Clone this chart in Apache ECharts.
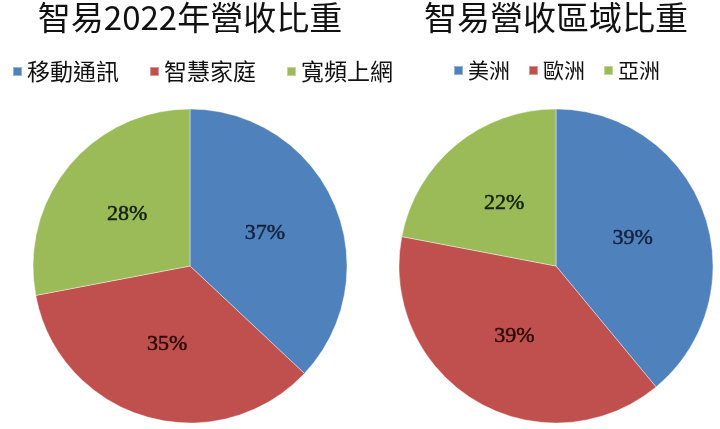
<!DOCTYPE html>
<html>
<head>
<meta charset="utf-8">
<script src="https://cdn.jsdelivr.net/npm/echarts@6/dist/echarts.min.js"></script>
<style>
html,body{margin:0;padding:0;background:#fff;}
#c{width:720px;height:429px;}
</style>
</head>
<body>
<div id="c"></div>
<script>
const titleLeft = '智易2022年營收比重';
const titleRight = '智易營收區域比重';
const segCategories = ['移動通訊', '智慧家庭', '寬頻上網'];
const segValues = [37, 35, 28];
const regionCategories = ['美洲', '歐洲', '亞洲'];
const regionValues = [39, 39, 22];
const colors = ['#4F81BD', '#C0504D', '#9BBB59'];
const labelColors = ['#14213d', '#2a0808', '#14200a'];

const cjk = '"Noto Sans CJK TC", "Noto Sans CJK SC", sans-serif';

function buildData(cats, vals) {
  return cats.map((n, i) => ({
    name: n,
    value: vals[i],
    itemStyle: { color: colors[i] },
    label: { color: labelColors[i], textBorderColor: labelColors[i] }
  }));
}

const labelStyle = {
  show: true, position: 'inside', formatter: '{c}%',
  fontFamily: '"Liberation Serif", serif', fontSize: 22,
  textBorderWidth: 0.5
};

const chart = echarts.init(document.getElementById('c'));
chart.setOption({
  backgroundColor: '#fff',
  animation: false,
  title: [
    { text: titleLeft, left: 190, top: 1, textAlign: 'center', padding: 0,
      textStyle: { fontFamily: cjk, fontSize: 33, fontWeight: 'normal', color: '#111' } },
    { text: titleRight, left: 556, top: 1, textAlign: 'center', padding: 0,
      textStyle: { fontFamily: cjk, fontSize: 33, fontWeight: 'normal', color: '#111' } }
  ],
  legend: [
    { data: segCategories, left: 12, top: 60, padding: 0, itemWidth: 9, itemHeight: 9,
      itemGap: 30, icon: 'rect',
      textStyle: { fontFamily: cjk, fontSize: 23, color: '#111' } },
    { data: regionCategories, left: 453, top: 60, padding: 0, itemWidth: 9, itemHeight: 9,
      itemGap: 18, icon: 'rect',
      textStyle: { fontFamily: cjk, fontSize: 21, color: '#111' } }
  ],
  series: [
    { type: 'pie', center: [190, 266], radius: [0, 157], startAngle: 90, clockwise: true,
      data: buildData(segCategories, segValues),
      itemStyle: { borderColor: 'rgba(255,255,255,0.4)', borderWidth: 1 },
      label: labelStyle,
      labelLine: { show: false }, emphasis: { disabled: true } },
    { type: 'pie', center: [556, 266], radius: [0, 157], startAngle: 90, clockwise: true,
      data: buildData(regionCategories, regionValues),
      itemStyle: { borderColor: 'rgba(255,255,255,0.4)', borderWidth: 1 },
      label: labelStyle,
      labelLine: { show: false }, emphasis: { disabled: true } }
  ]
});
</script>
</body>
</html>
